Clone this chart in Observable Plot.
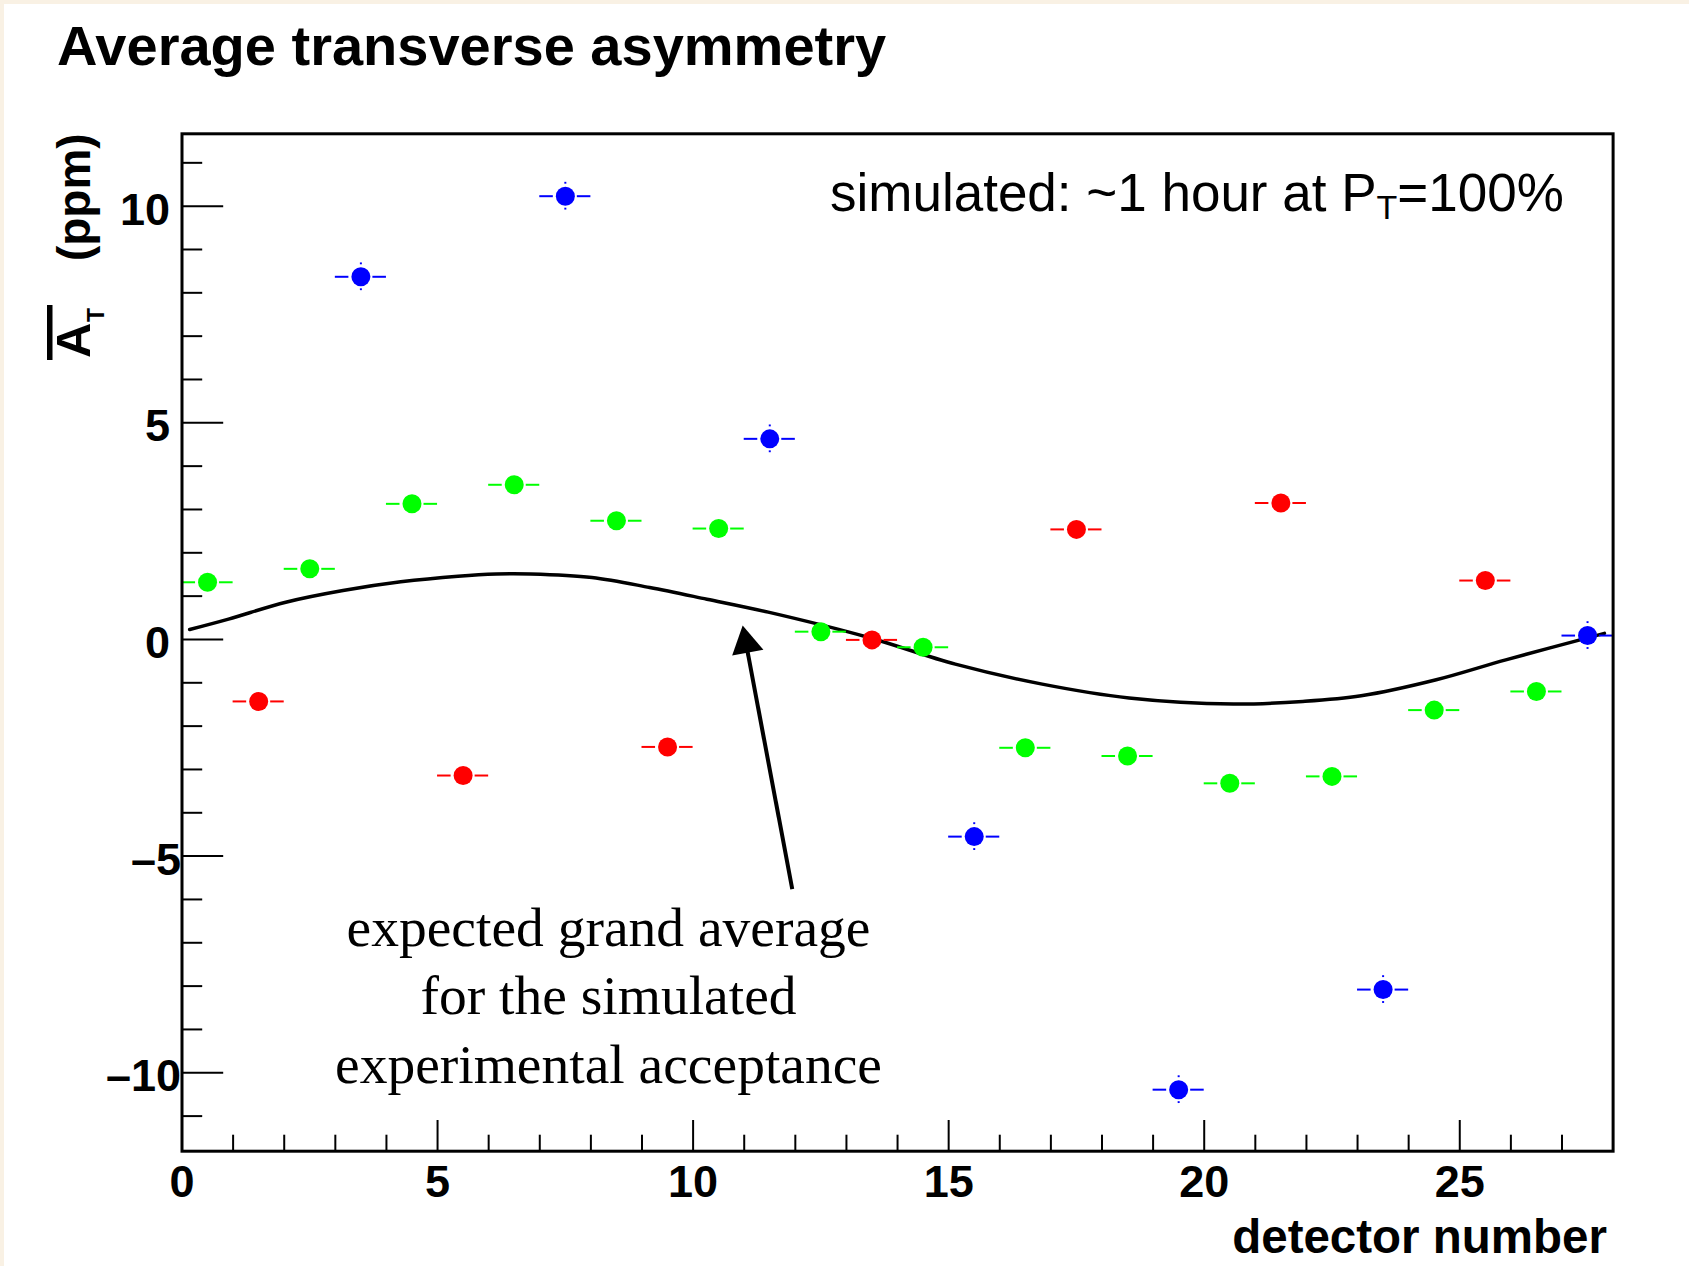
<!DOCTYPE html>
<html><head><meta charset="utf-8">
<script src="https://cdn.jsdelivr.net/npm/d3@7"></script>
<script src="https://cdn.jsdelivr.net/npm/@observablehq/plot@0.6"></script>
<style>
html,body{margin:0;padding:0;background:#f9f1e4;}
#wrap{position:absolute;left:4px;top:4px;width:1685px;height:1262px;background:#fff;}
#title{height:90px;box-sizing:border-box;padding-left:53px;padding-top:14px;font:bold 56px "Liberation Sans",Arial,sans-serif;line-height:56px;white-space:nowrap;color:#000;}
</style></head><body>
<div id="wrap"><div id="title">Average transverse asymmetry</div><div id="chart"></div></div>
<script>
// ---- data ----
const detector = [1,2,3,4,5,6,7,8,9,10,11,12,13,14,15,16,17,18,19,20,21,22,23,24,25,26,27,28];
const asymmetry = [1.32,-1.43,1.63,8.37,3.13,-3.14,3.57,10.23,2.74,-2.48,2.56,4.63,0.18,-0.01,-0.18,-4.55,-2.50,2.54,-2.69,-10.39,-3.32,3.15,-3.16,-8.08,-1.63,1.36,-1.20,0.09];
const pointColor = ["#00ff00","#ff0000","#00ff00","#0000ff","#00ff00","#ff0000","#00ff00","#0000ff","#00ff00","#ff0000","#00ff00","#0000ff","#00ff00","#ff0000","#00ff00","#0000ff","#00ff00","#ff0000","#00ff00","#0000ff","#00ff00","#ff0000","#00ff00","#0000ff","#00ff00","#ff0000","#00ff00","#0000ff"];
const asymError = [0.2,0.2,0.2,0.32,0.2,0.2,0.2,0.32,0.2,0.2,0.2,0.32,0.2,0.2,0.2,0.32,0.2,0.2,0.2,0.32,0.2,0.2,0.2,0.32,0.2,0.2,0.2,0.32];
const curveX = [0.15,0.91,2.03,3.15,4.28,5.40,6.15,6.82,8.02,9.15,10.27,11.47,13.42,15.13,16.83,18.53,20.57,21.93,23.07,24.54,25.90,27.83];
const curveY = [0.23,0.47,0.86,1.13,1.33,1.46,1.51,1.51,1.43,1.20,0.93,0.63,0.05,-0.57,-1.03,-1.35,-1.49,-1.43,-1.30,-0.93,-0.47,0.14];
const arrowTail = [11.94, -5.76];
const arrowTip = [10.97, 0.32];
const xTicks = [0,5,10,15,20,25];
const yTicks = [-10,-5,0,5,10];
const xMinorTicks = [1,2,3,4,6,7,8,9,11,12,13,14,16,17,18,19,21,22,23,24,26,27];
const yMinorTicks = [-11,-9,-8,-7,-6,-4,-3,-2,-1,1,2,3,4,6,7,8,9,11];
const xDomain = [0, 28];
const yDomain = [-11.81, 11.67];

// ---- layout ----
const W = 1685, H = 1172;
const mL = 177.5, mR = 76.4, mT = 39.3, mB = 115.3;
const innerW = W - mL - mR, innerH = H - mT - mB;
const pxX = innerW / (xDomain[1] - xDomain[0]);
const pxY = innerH / (yDomain[1] - yDomain[0]);
const gapX = 12 / pxX, gapY = 12 / pxY;

const rows = detector.map((d, i) => ({x: d - 0.5, y: asymmetry[i], c: pointColor[i], e: asymError[i]}));
const curve = curveX.map((x, i) => ({x, y: curveY[i]}));
const arrow = [{x1: arrowTail[0], y1: arrowTail[1], x2: arrowTip[0], y2: arrowTip[1]}];
const adx = (arrowTip[0] - arrowTail[0]) * pxX, ady = -(arrowTip[1] - arrowTail[1]) * pxY;
const alen = Math.hypot(adx, ady);
const headAngle = Math.atan2(adx, -ady) * 180 / Math.PI;
const headR = 11.8, headCenter = 18.3;
const fmt = v => v < 0 ? "\u2013" + Math.abs(v) : String(v);
const sans = "'Liberation Sans', Arial, Helvetica, sans-serif";

const plot = Plot.plot({
  width: W, height: H,
  marginLeft: mL, marginRight: mR, marginTop: mT, marginBottom: mB,
  x: {domain: xDomain},
  y: {domain: yDomain},
  color: {type: "identity"},
  style: {fontFamily: sans, fontWeight: "bold", fontSize: "45px", background: "white", color: "black", overflow: "visible"},
  marks: [
    Plot.ruleY(yMinorTicks, {y: d => d, insetRight: innerW - 20.7, stroke: "black", strokeWidth: 2}),
    Plot.ruleY(yTicks, {y: d => d, insetRight: innerW - 41.7, stroke: "black", strokeWidth: 2}),
    Plot.ruleX(xMinorTicks, {x: d => d, insetTop: innerH - 16, stroke: "black", strokeWidth: 2}),
    Plot.ruleX(xTicks, {x: d => d, insetTop: innerH - 30.7, stroke: "black", strokeWidth: 2}),
    Plot.axisY({ticks: yTicks.filter(v => v >= 0), tickSize: 0, tickPadding: 12, dy: 4, fontSize: 45, fontWeight: "bold", tickFormat: fmt, label: null}),
    Plot.axisY({ticks: yTicks.filter(v => v < 0), tickSize: 0, tickPadding: 1, dy: 4, fontSize: 45, fontWeight: "bold", tickFormat: fmt, label: null}),
    Plot.axisX({ticks: xTicks, tickSize: 0, tickPadding: 14, fontSize: 45, fontWeight: "bold", tickFormat: fmt, label: null}),
    Plot.line(curve, {x: "x", y: "y", curve: "catmull-rom", stroke: "black", strokeWidth: 3.5}),
    Plot.ruleY(rows, {y: "y", x1: d => d.x - 0.5, x2: d => d.x - gapX, stroke: "c", strokeWidth: 2}),
    Plot.ruleY(rows, {y: "y", x1: d => d.x + gapX, x2: d => d.x + 0.5, stroke: "c", strokeWidth: 2}),
    Plot.ruleX(rows.filter(d => d.e > gapY), {x: "x", y1: d => d.y + gapY, y2: d => d.y + d.e, stroke: "c", strokeWidth: 2}),
    Plot.ruleX(rows.filter(d => d.e > gapY), {x: "x", y1: d => d.y - gapY, y2: d => d.y - d.e, stroke: "c", strokeWidth: 2}),
    Plot.dot(rows, {x: "x", y: "y", fill: "c", r: 9.5, stroke: null}),
    Plot.arrow(arrow, {x1: "x1", y1: "y1", x2: "x2", y2: "y2", headLength: 0, insetEnd: 20, stroke: "black", strokeWidth: 4, strokeLinecap: "butt"}),
    Plot.dot(arrow, {x: "x2", y: "y2", symbol: "triangle", r: headR, fill: "black", stroke: null,
      rotate: headAngle, dx: -adx / alen * headCenter, dy: -ady / alen * headCenter}),
    Plot.frame({stroke: "black", strokeWidth: 3})
  ]
});
document.getElementById("chart").appendChild(plot);

const svg = d3.select(plot);
const g = svg.append("g").attr("fill", "black").attr("text-anchor", "start");
// y-axis title: overlined A with subscript T, then (ppm)
g.append("rect").attr("x", 43).attr("y", 211).attr("width", 5.5).attr("height", 55);
g.append("text").attr("transform", "translate(86,264) rotate(-90)").attr("text-anchor", "start")
  .attr("font-family", sans).attr("font-weight", "bold").attr("font-size", 49).text("A");
g.append("text").attr("transform", "translate(100,228) rotate(-90)").attr("text-anchor", "start")
  .attr("font-family", sans).attr("font-weight", "bold").attr("font-size", 23).text("T");
g.append("text").attr("transform", "translate(86,39.3) rotate(-90)").attr("text-anchor", "end")
  .attr("font-family", sans).attr("font-weight", "bold").attr("font-size", 46).text("(ppm)");
// x-axis title
g.append("text").attr("x", 1603).attr("y", 1159).attr("text-anchor", "end")
  .attr("font-family", sans).attr("font-weight", "bold").attr("font-size", 47.5).text("detector number");
// top-right note
const note = g.append("text").attr("x", 826).attr("y", 117).attr("text-anchor", "start")
  .attr("font-family", sans).attr("font-weight", "normal").attr("font-size", 53);
note.append("tspan").text("simulated: ~1 hour at P");
note.append("tspan").attr("font-size", 34).attr("dy", 8).text("T");
note.append("tspan").attr("dy", -8).text("=100%");
// serif annotation
const ann = g.append("text").attr("text-anchor", "middle")
  .attr("font-family", "'Liberation Serif', 'Times New Roman', serif").attr("font-weight", "normal").attr("font-size", 55.5);
[["expected grand average", 852], ["for the simulated", 920], ["experimental acceptance", 989]].forEach(([t, y]) =>
  ann.append("tspan").attr("x", 604.5).attr("y", y).text(t));
</script>
</body></html>
